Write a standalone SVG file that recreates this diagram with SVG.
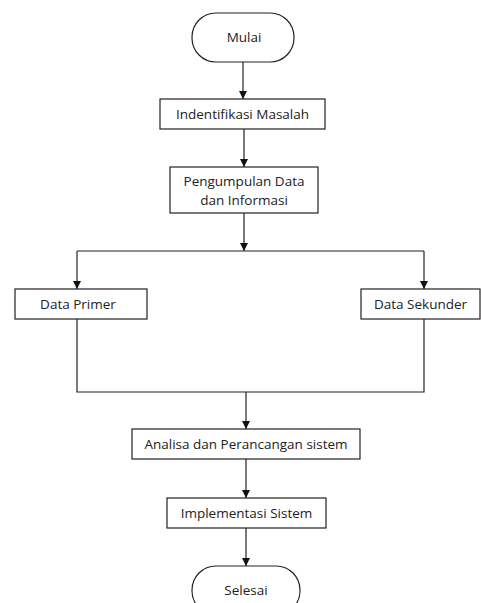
<svg xmlns="http://www.w3.org/2000/svg" width="481" height="603" viewBox="0 0 481 603">
  <defs>
    <marker id="arrow" viewBox="0 0 10 10" refX="10" refY="5" markerWidth="8" markerHeight="8" markerUnits="userSpaceOnUse" orient="auto">
      <path d="M0,0 L10,5 L0,10 Z" fill="#111"/>
    </marker>
    <style>
      .box { fill: #fff; stroke: #222; stroke-width: 1.2; }
      .lbl { font-family: "Open Sans", "Liberation Sans", sans-serif; font-size: 13.5px; fill: #222; text-anchor: middle; dominant-baseline: central; }
      .wire { fill: none; stroke: #222; stroke-width: 1.2; }
      .arr { marker-end: url(#arrow); }
    </style>
  </defs>
  <rect width="481" height="603" fill="#fff"/>

  <g id="connectors">
    <path class="wire arr" d="M243,62 V99"/>
    <path class="wire arr" d="M244,129 V167"/>
    <path class="wire arr" d="M244,213 V251"/>
    <path class="wire" d="M77,251 H424"/>
    <path class="wire arr" d="M77,251 V289"/>
    <path class="wire arr" d="M424,251 V289"/>
    <path class="wire" d="M77,319 V392 H424 V319"/>
    <path class="wire arr" d="M246,392 V429"/>
    <path class="wire arr" d="M246,459 V498"/>
    <path class="wire arr" d="M246,528 V566"/>
  </g>

  <g id="mulai">
    <rect class="box" x="192" y="13" width="102" height="49" rx="24" ry="24"/>
    <text class="lbl" x="244" y="37">Mulai</text>
  </g>

  <g id="identifikasi">
    <rect class="box" x="160" y="99" width="165" height="30"/>
    <text class="lbl" x="242.5" y="114">Indentifikasi Masalah</text>
  </g>

  <g id="pengumpulan">
    <rect class="box" x="170" y="167" width="148" height="46"/>
    <text class="lbl" x="244" y="181">Pengumpulan Data</text>
    <text class="lbl" x="244" y="200">dan Informasi</text>
  </g>

  <g id="data-primer">
    <rect class="box" x="15" y="289" width="132" height="30"/>
    <text class="lbl" x="78" y="304">Data Primer</text>
  </g>

  <g id="data-sekunder">
    <rect class="box" x="361" y="289" width="119" height="30"/>
    <text class="lbl" x="420.5" y="304">Data Sekunder</text>
  </g>

  <g id="analisa">
    <rect class="box" x="132" y="429" width="228" height="30"/>
    <text class="lbl" x="246" y="444">Analisa dan Perancangan sistem</text>
  </g>

  <g id="implementasi">
    <rect class="box" x="167" y="498" width="159" height="30"/>
    <text class="lbl" x="246.5" y="513">Implementasi Sistem</text>
  </g>

  <g id="selesai">
    <rect class="box" x="192" y="566" width="108" height="49" rx="24" ry="24"/>
    <text class="lbl" x="246" y="590">Selesai</text>
  </g>
</svg>
